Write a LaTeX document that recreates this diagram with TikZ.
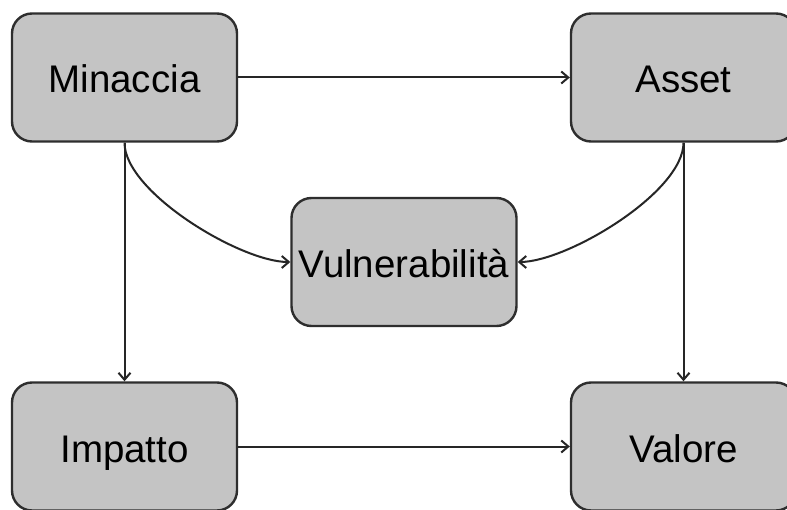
\documentclass[tikz,border=0pt]{standalone}
\usepackage{fontspec}
\setmainfont{Liberation Sans}
\usetikzlibrary{arrows.meta}

\definecolor{boxfill}{HTML}{C4C4C4}
\definecolor{boxline}{HTML}{2E2E2E}
\definecolor{linkcol}{HTML}{262626}

\begin{document}
\begin{tikzpicture}[x=1pt,y=1pt,
  concept/.style={draw=boxline, line width=2.4pt, fill=boxfill, rounded corners=20pt,
    minimum width=225pt, minimum height=128pt, inner sep=0pt,
    text height=36pt, text depth=5pt,
    font=\fontsize{38.5}{46}\selectfont},
  link/.style={draw=linkcol, line width=2pt,
    -{Straight Barb[length=7pt,width=12pt,line width=2pt]}}
]
  \clip (0,0) rectangle (787,509);
  \fill[white] (0,0) rectangle (787,509);

  \node[concept] (minaccia) at (124.5,431.5) {Minaccia};
  \node[concept] (asset)    at (683.5,431.5) {Asset};
  \node[concept] (vuln)     at (404,247)     {Vulnerabilità};
  \node[concept] (impatto)  at (124.5,62.5)  {Impatto};
  \node[concept] (valore)   at (683.5,62.5)  {Valore};

  \draw[link] (minaccia.east) -- (asset.west);
  \draw[link] (impatto.east) -- (valore.west);
  \draw[link] (minaccia.south) -- (impatto.north);
  \draw[link] (asset.south) -- (valore.north);
  \draw[link] (minaccia.south) to[out=-90,in=180,looseness=0.62] (vuln.west);
  \draw[link] (asset.south) to[out=-90,in=0,looseness=0.62] (vuln.east);
\end{tikzpicture}
\end{document}
